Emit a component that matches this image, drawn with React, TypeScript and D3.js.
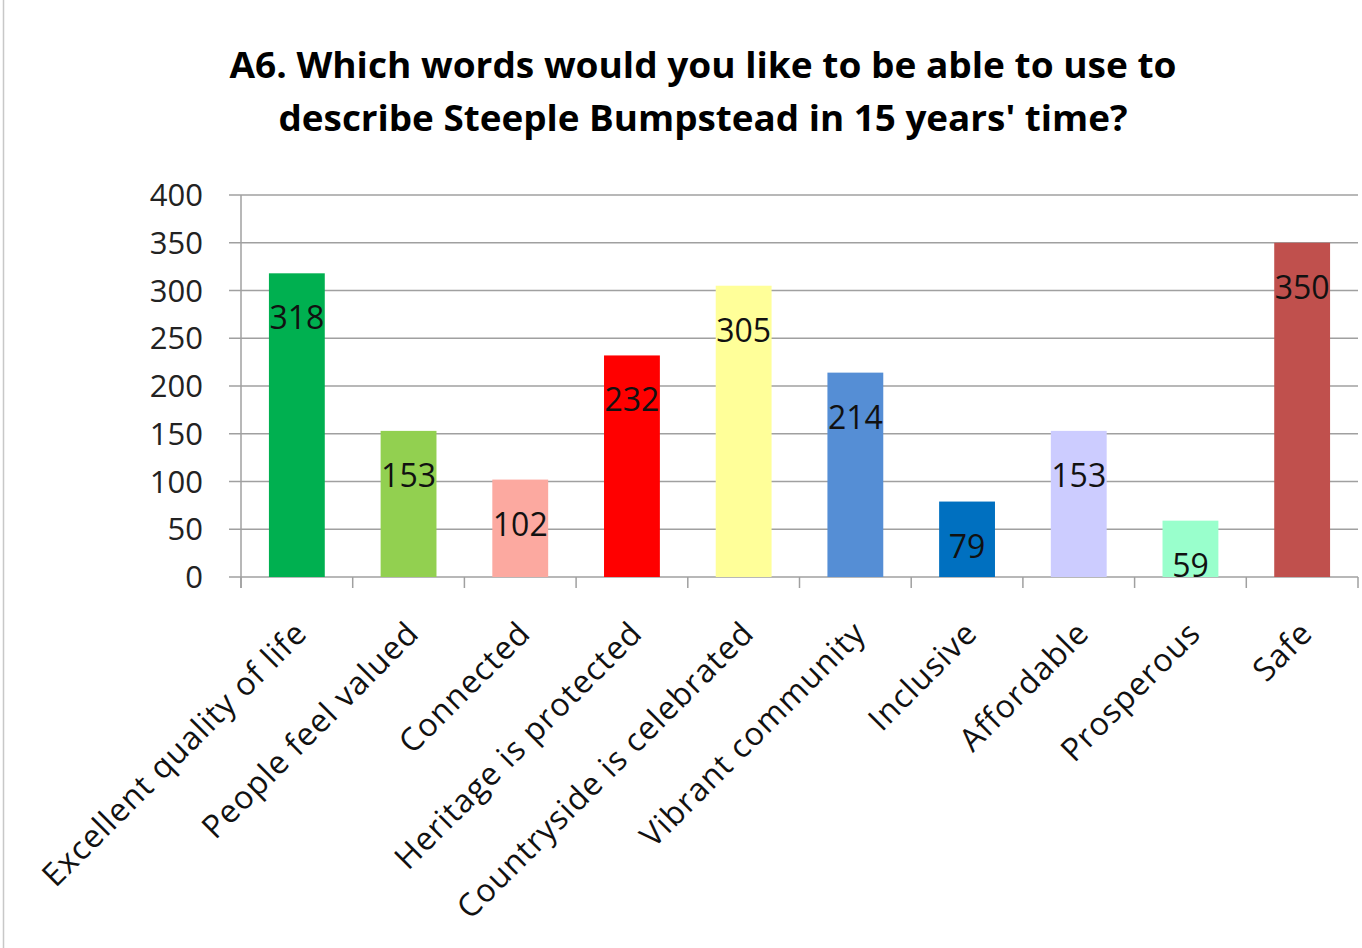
import * as d3 from "d3";
import { useEffect, useRef } from "react";

const categories = [
  "Excellent quality of life",
  "People feel valued",
  "Connected",
  "Heritage is protected",
  "Countryside is celebrated",
  "Vibrant community",
  "Inclusive",
  "Affordable",
  "Prosperous",
  "Safe",
];
const values = [318, 153, 102, 232, 305, 214, 79, 153, 59, 350];
const barColors = [
  "#00B050", "#92D050", "#FCA9A0", "#FF0000", "#FFFF99",
  "#558ED5", "#0070C0", "#CCCCFF", "#99FFCC", "#C0504D",
];
const yTicks = [0, 50, 100, 150, 200, 250, 300, 350, 400];
const titleLines = [
  "A6. Which words would you like to be able to use to",
  "describe Steeple Bumpstead in 15 years' time?",
];

export default function App() {
  const svgRef = useRef<SVGSVGElement | null>(null);

  useEffect(() => {
    const width = 1362;
    const height = 948;
    const svg = d3.select(svgRef.current).attr("width", width).attr("height", height);
    svg.selectAll("*").remove();

    const left = 241, right = 1358, top = 195, bottom = 577;
    const font = "'Open Sans', 'Noto Sans', sans-serif";

    svg.append("rect").attr("width", width).attr("height", height).attr("fill", "#fff");
    svg.append("line")
      .attr("x1", 3.5).attr("x2", 3.5).attr("y1", 0).attr("y2", height)
      .attr("stroke", "#c8c8c8").attr("stroke-width", 1.5);

    // title
    svg.append("g").selectAll("text").data(titleLines).enter().append("text")
      .attr("x", 703)
      .attr("y", (_, i) => 78 + i * 53)
      .attr("text-anchor", "middle")
      .attr("font-family", font)
      .attr("font-weight", "bold")
      .attr("font-size", 36)
      .attr("textLength", (_, i) => (i === 0 ? 947 : 849))
      .attr("lengthAdjust", "spacingAndGlyphs")
      .attr("fill", "#000")
      .text(d => d);

    const x = d3.scaleBand<string>().domain(categories).range([left, right]).paddingInner(0).paddingOuter(0);
    const y = d3.scaleLinear().domain([0, 400]).range([bottom, top]);
    const bw = x.bandwidth() * 0.5;

    // gridlines
    svg.append("g").selectAll("line").data(yTicks).enter().append("line")
      .attr("x1", left - 12).attr("x2", right)
      .attr("y1", d => y(d)).attr("y2", d => y(d))
      .attr("stroke", "#a0a0a0").attr("stroke-width", 1.5);

    // y axis
    svg.append("line")
      .attr("x1", left).attr("x2", left).attr("y1", top).attr("y2", bottom + 11)
      .attr("stroke", "#a0a0a0").attr("stroke-width", 1.5);
    svg.append("g").selectAll("text").data(yTicks).enter().append("text")
      .attr("x", 203)
      .attr("y", d => y(d))
      .attr("dy", "0.36em")
      .attr("text-anchor", "end")
      .attr("font-family", font)
      .attr("font-size", 31)
      .attr("fill", "#222")
      .text(d => d);

    // x ticks at category boundaries
    const bounds = categories.map(c => x(c)!).concat([right]);
    svg.append("g").selectAll("line").data(bounds).enter().append("line")
      .attr("x1", d => d).attr("x2", d => d)
      .attr("y1", bottom).attr("y2", bottom + 11)
      .attr("stroke", "#a0a0a0").attr("stroke-width", 1.5);

    // bars
    svg.append("g").selectAll("rect").data(values).enter().append("rect")
      .attr("x", (_, i) => x(categories[i])! + (x.bandwidth() - bw) / 2)
      .attr("width", bw)
      .attr("y", d => y(d))
      .attr("height", d => bottom - y(d))
      .attr("fill", (_, i) => barColors[i]);

    // data labels
    svg.append("g").selectAll("text").data(values).enter().append("text")
      .attr("x", (_, i) => x(categories[i])! + x.bandwidth() / 2)
      .attr("y", d => y(d) + 56)
      .attr("text-anchor", "middle")
      .attr("font-family", font)
      .attr("font-size", 32)
      .attr("fill", "#111")
      .text(d => d);

    // category labels
    svg.append("g").selectAll("text").data(categories).enter().append("text")
      .attr("transform", d => `translate(${x(d)! + x.bandwidth() / 2 + 4},${bottom + 50}) rotate(-45)`)
      .attr("text-anchor", "end")
      .attr("dy", "0.36em")
      .attr("font-family", font)
      .attr("font-size", 32)
      .attr("letter-spacing", 1)
      .attr("fill", "#111")
      .text(d => d);
  }, []);

  return <svg ref={svgRef} style={{ position: "absolute", left: 0, top: 0 }} />;
}
